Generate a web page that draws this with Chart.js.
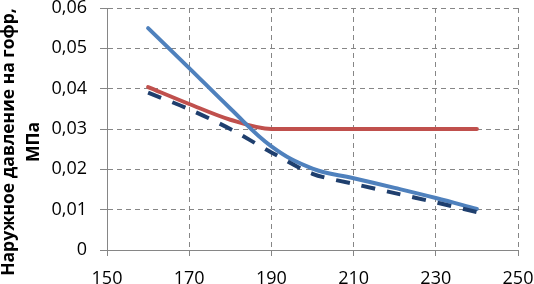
<!DOCTYPE html>
<html>
<head>
<meta charset="utf-8">
<script src="https://cdn.jsdelivr.net/npm/chart.js@4"></script>
<style>
  html, body { margin: 0; padding: 0; background: #fff; }
  #wrap { width: 534px; height: 284px; }
</style>
</head>
<body>
<div id="wrap"><canvas id="chart"></canvas></div>
<script>
// Значения
const xValues = [160, 170, 180, 190, 200, 210, 220, 230, 240];
const blueValues = [0.055, 0.0451, 0.0351, 0.0257, 0.0202, 0.0178, 0.0154, 0.0129, 0.0102];
const redValues = [0.0404, 0.0362, 0.0323, 0.0300, 0.0300, 0.0300, 0.0300, 0.0300, 0.0300];
const navyValues = [0.0390, 0.0349, 0.0300, 0.0242, 0.0189, 0.0164, 0.0141, 0.0118, 0.0094];
const xTicks = [150, 170, 190, 210, 230, 250];
const yTitle = ['Наружное давление на гофр,', 'МПа'];

const toPoints = (ys) => xValues.map((x, i) => ({ x: x, y: ys[i] }));

const gridColor = '#868686';
const fontFamily = '"Open Sans", "Liberation Sans", sans-serif';

// подпись оси Y рисуем сами, чтобы сдвинуть её как в оригинале
const yTitlePlugin = {
    id: 'yTitle',
    afterDraw(chart) {
        const ctx = chart.ctx;
        ctx.save();
        ctx.translate(0, 142);
        ctx.rotate(-Math.PI / 2);
        ctx.fillStyle = '#000';
        ctx.font = 'bold 17.5px ' + fontFamily;
        ctx.textAlign = 'center';
        ctx.textBaseline = 'middle';
        ctx.fillText(yTitle[0], 0, 9);
        ctx.fillText(yTitle[1], 0, 34);
        ctx.restore();
    }
};

new Chart(document.getElementById('chart').getContext('2d'), {
    type: 'line',
    data: {
        datasets: [
            { data: toPoints(navyValues), borderColor: '#1f3f6e', borderWidth: 4, borderDash: [14, 12], tension: 0.3, order: 1 },
            { data: toPoints(blueValues), borderColor: '#4f81bd', borderWidth: 4, borderCapStyle: 'round', tension: 0.4, order: 2 },
            { data: toPoints(redValues), borderColor: '#c0504d', borderWidth: 4, borderCapStyle: 'round', cubicInterpolationMode: 'monotone', order: 3 }
        ]
    },
    plugins: [yTitlePlugin],
    options: {
        responsive: true,
        maintainAspectRatio: false,
        animation: false,
        layout: { padding: 0 },
        elements: {
            point: { radius: 0 },
            line: { fill: false }
        },
        plugins: { legend: { display: false }, tooltip: { enabled: false } },
        scales: {
            x: {
                type: 'linear',
                min: 150, max: 250,
                afterBuildTicks: (axis) => { axis.ticks = xTicks.map(v => ({ value: v })); },
                ticks: { color: '#000', font: { family: fontFamily, size: 18 }, padding: 12, maxRotation: 0 },
                grid: { color: gridColor, lineWidth: 1, tickLength: 6 },
                border: { display: true, color: gridColor, width: 1, dash: [5, 4] },
                afterFit: (axis) => { axis.height = 34; axis.paddingRight = 16; axis.paddingLeft = 0; }
            },
            y: {
                min: 0, max: 0.06,
                ticks: {
                    stepSize: 0.01,
                    color: '#000',
                    font: { family: fontFamily, size: 18 },
                    padding: 13,
                    callback: (v) => v === 0 ? '0' : v.toFixed(2).replace('.', ',')
                },
                grid: { color: gridColor, lineWidth: 1, tickLength: 7 },
                border: { display: true, color: gridColor, width: 1, dash: [5, 4] },
                afterFit: (axis) => { axis.width = 107; axis.paddingTop = 8; axis.paddingBottom = 0; }
            }
        }
    }
});
</script>
</body>
</html>
